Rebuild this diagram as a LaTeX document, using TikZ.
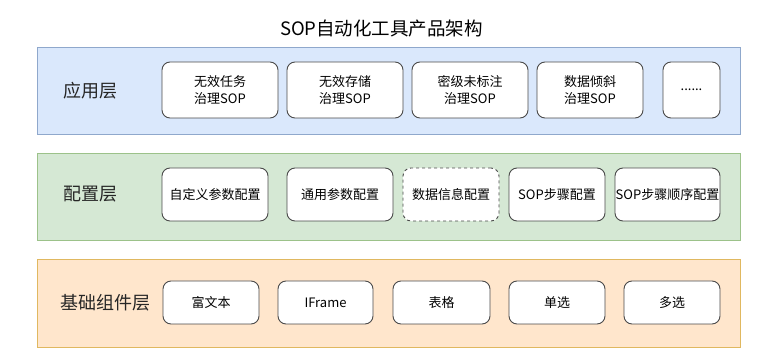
\documentclass[tikz,border=0pt]{standalone}
\usepackage{fontspec}
\setmainfont{Noto Sans CJK SC}
\definecolor{bluefill}{HTML}{DAE8FC}
\definecolor{bluedraw}{HTML}{8FA8CC}
\definecolor{greenfill}{HTML}{D5E8D4}
\definecolor{greendraw}{HTML}{9CC28A}
\definecolor{orangefill}{HTML}{FFE6CC}
\definecolor{orangedraw}{HTML}{E0B860}
\definecolor{boxdraw}{HTML}{4A4A4A}
\tikzset{
  band/.style={draw, line width=0.8pt, minimum width=703pt, inner sep=0pt},
  itembox/.style={draw=boxdraw, fill=white, line width=0.9pt, rounded corners=8pt, inner sep=0pt, align=center, font=\fontsize{13}{17}\selectfont},
  layerlabel/.style={font=\fontsize{18}{20}\selectfont, inner sep=0pt, text=black!85},
}
\begin{document}
\begin{tikzpicture}[x=1pt,y=-1pt]
\useasboundingbox[fill=white] (0,0) rectangle (777,363);
\node[font=\fontsize{18.5}{20}\selectfont, inner sep=0pt] (title) at (381.5,29) {SOP自动化工具产品架构};

% bands
\node[band, draw=bluedraw, fill=bluefill, minimum height=87pt] (b1) at (388.5,90.5) {};
\node[band, draw=greendraw, fill=greenfill, minimum height=87pt] (b2) at (388.5,196.5) {};
\node[band, draw=orangedraw, fill=orangefill, minimum height=88pt] (b3) at (388.5,303) {};

% labels
\node[layerlabel] (l1) at (90,91) {应用层};
\node[layerlabel] (l2) at (90,194) {配置层};
\node[layerlabel] (l3) at (105,303) {基础组件层};

% row 1
\node[itembox, minimum width=116pt, minimum height=56pt] (a1) at (220,90) {无效任务\\治理SOP};
\node[itembox, minimum width=116pt, minimum height=56pt] (a2) at (345,90) {无效存储\\治理SOP};
\node[itembox, minimum width=116pt, minimum height=56pt] (a3) at (470,90) {密级未标注\\治理SOP};
\node[itembox, minimum width=106pt, minimum height=56pt] (a4) at (590,90) {数据倾斜\\治理SOP};
\node[itembox, minimum width=57pt, minimum height=56pt] (a5) at (691.5,90) {......};

% row 2
\node[itembox, minimum width=106pt, minimum height=53pt] (c1) at (215,194.5) {自定义参数配置};
\node[itembox, minimum width=106pt, minimum height=53pt] (c2) at (340,194.5) {通用参数配置};
\node[itembox, dashed, minimum width=96pt, minimum height=53pt] (c3) at (451,194.5) {数据信息配置};
\node[itembox, minimum width=96pt, minimum height=53pt] (c4) at (557,194.5) {SOP步骤配置};
\node[itembox, minimum width=105pt, minimum height=53pt] (c5) at (667.5,194.5) {SOP步骤顺序配置};

% row 3
\node[itembox, minimum width=96pt, minimum height=43pt] (d1) at (211,302.5) {富文本};
\node[itembox, minimum width=95pt, minimum height=43pt] (d2) at (325.5,302.5) {IFrame};
\node[itembox, minimum width=97pt, minimum height=43pt] (d3) at (441.5,302.5) {表格};
\node[itembox, minimum width=96pt, minimum height=43pt] (d4) at (557,302.5) {单选};
\node[itembox, minimum width=96pt, minimum height=43pt] (d5) at (672,302.5) {多选};
\end{tikzpicture}
\end{document}
